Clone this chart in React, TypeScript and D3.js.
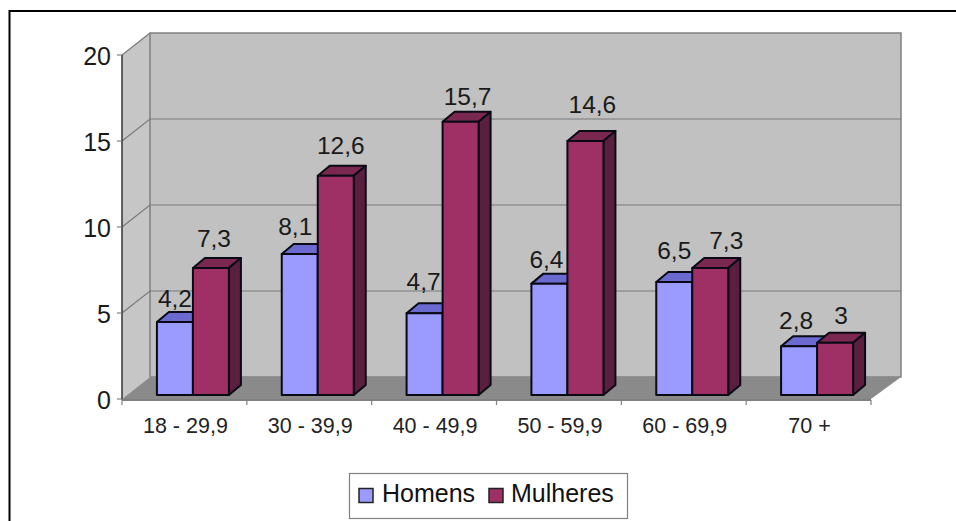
import React from "react";
import * as d3 from "d3";

const categories = ["18 - 29,9", "30 - 39,9", "40 - 49,9", "50 - 59,9", "60 - 69,9", "70 +"];
const homens = [4.2, 8.1, 4.7, 6.4, 6.5, 2.8];
const mulheres = [7.3, 12.6, 15.7, 14.6, 7.3, 3];
const yTicks = [0, 5, 10, 15, 20];

// Hand placement of the value labels relative to the top of their bar
const homensLabelLift = [15, 19, 23, 16, 23, 17];
const mulheresLabelLift = [21, 22, 17, 28, 19, 19];
const homensLabelShift = [0, -4.5, -1, -3, 0, -3];
const mulheresLabelShift = [3, 5, 7, 7, 16, 6];

const FONT = "'Liberation Sans', Arial, sans-serif";
const DX = 28;
const DY = 22;
const BAR_DX = 12;
const BAR_DY = 10;
const BAR_W = 36;

const x = d3.scaleBand<string>().domain(categories).range([122, 871]);
const wall = d3.scaleLinear().domain([0, 20]).range([399, 55]);
const bar = d3.scaleLinear().domain([0, 20]).range([395, 47]);
const pts = (p: number[][]) => p.map((q) => q.join(",")).join(" ");
const fmt = (v: number) => String(v).replace(".", ",");

function Bar3D(props: { left: number; value: number; front: string; top: string; side: string }) {
  const { left, value, front, top, side } = props;
  const y0 = bar(0);
  const y1 = bar(value);
  const r = left + BAR_W;
  return (
    <g stroke="#0a0a14" strokeWidth={2} strokeLinejoin="round">
      <polygon points={pts([[left, y1], [left + BAR_DX, y1 - BAR_DY], [r + BAR_DX, y1 - BAR_DY], [r, y1]])} fill={top} />
      <polygon points={pts([[r, y1], [r + BAR_DX, y1 - BAR_DY], [r + BAR_DX, y0 - BAR_DY], [r, y0]])} fill={side} />
      <rect x={left} y={y1} width={BAR_W} height={y0 - y1} fill={front} />
    </g>
  );
}

export default function App() {
  const mid = (c: string) => (x(c) as number) + x.bandwidth() / 2 + 8.5;
  const ticksX = [...categories.map((c) => x(c) as number), 871];
  return (
    <svg width={956} height={521} style={{ position: "absolute", left: 0, top: 0, background: "#fff" }} fontFamily={FONT}>
      <path d="M956,11 H9.5 V521" fill="none" stroke="#000" strokeWidth={2} />

      {/* side wall, back wall and floor of the plot box */}
      <polygon points={pts([[122, wall(20)], [122 + DX, wall(20) - DY], [122 + DX, wall(0) - DY], [122, wall(0)]])} fill="#c6c6c6" />
      <rect x={150} y={wall(20) - DY} width={751} height={wall(0) - wall(20)} fill="#c1c1c1" stroke="#808080" strokeWidth={1.5} />
      <polygon points={pts([[122, wall(0)], [150, wall(0) - DY], [901, wall(0) - DY], [871, wall(0)]])} fill="#8a8a8a" />

      {yTicks.filter((t) => t > 0).map((t) => (
        <polyline
          key={t}
          points={pts([[122, wall(t)], [150, wall(t) - DY], ...(t < 20 ? [[901, wall(t) - DY]] : [])])}
          stroke="#7a7a7a"
          strokeWidth={1.2}
          fill="none"
        />
      ))}

      <line x1={122} x2={122} y1={wall(20)} y2={wall(0) + 1} stroke="#333" strokeWidth={1.5} />
      <line x1={122} x2={871} y1={wall(0) + 1} y2={wall(0) + 1} stroke="#808080" strokeWidth={2} />
      {yTicks.map((t) => (
        <line key={t} x1={117} x2={122} y1={wall(t)} y2={wall(t)} stroke="#808080" strokeWidth={1.2} />
      ))}
      {ticksX.map((t, i) => (
        <line key={i} x1={t} x2={t} y1={wall(0) + 1} y2={wall(0) + 6} stroke="#808080" strokeWidth={1.2} />
      ))}
      {yTicks.map((t) => (
        <text key={t} x={111} y={wall(t) + 9.5} fontSize={25} textAnchor="end" fill="#1a1a1a">{t}</text>
      ))}
      {categories.map((c) => (
        <text key={c} x={(x(c) as number) + x.bandwidth() / 2 + 1} y={432.5} fontSize={21.5} textAnchor="middle" fill="#222">{c}</text>
      ))}

      {/* the women's bar of each group overlaps the men's label */}
      {categories.map((c, i) => (
        <g key={c}>
          <Bar3D left={mid(c) - BAR_W} value={homens[i]} front="#9a9aff" top="#6a6ad0" side="#4c4c99" />
          <text x={mid(c) - BAR_W / 2 + homensLabelShift[i]} y={bar(homens[i]) - homensLabelLift[i]} fontSize={24.5} textAnchor="middle" fill="#1a1a1a">{fmt(homens[i])}</text>
          <Bar3D left={mid(c)} value={mulheres[i]} front="#9e3066" top="#7a2850" side="#5a1f3f" />
          <text x={mid(c) + BAR_W / 2 + mulheresLabelShift[i]} y={bar(mulheres[i]) - mulheresLabelLift[i]} fontSize={24.5} textAnchor="middle" fill="#1a1a1a">{fmt(mulheres[i])}</text>
        </g>
      ))}

      {/* legend */}
      <rect x={349.5} y={473.5} width={278} height={45} fill="#fff" stroke="#808080" strokeWidth={1.2} />
      <rect x={359} y={488.5} width={14} height={14} fill="#9a9aff" stroke="#222" strokeWidth={1.5} />
      <text x={382} y={502} fontSize={25} fill="#111">Homens</text>
      <rect x={489} y={488.5} width={14} height={14} fill="#9e3066" stroke="#222" strokeWidth={1.5} />
      <text x={511} y={502} fontSize={25} fill="#111">Mulheres</text>
    </svg>
  );
}
